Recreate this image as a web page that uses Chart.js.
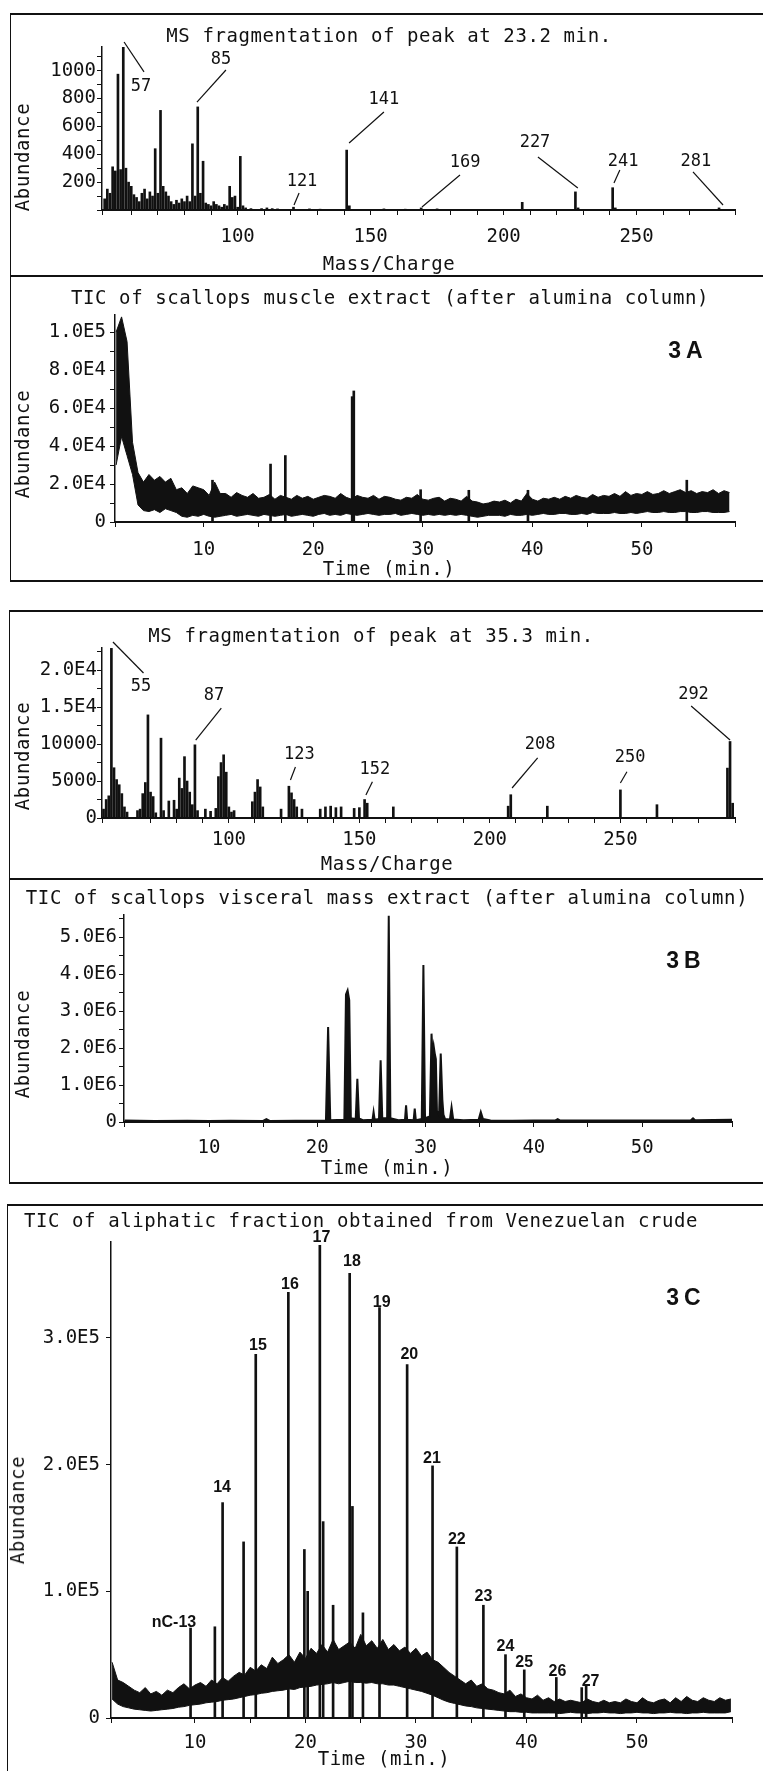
<!doctype html>
<html lang="en">
<head>
<meta charset="utf-8">
<title>Scallop extracts - GC/MS</title>
<script src="https://cdn.jsdelivr.net/npm/chart.js"></script>
<style>
  body { margin: 0; width: 763px; height: 1771px; overflow: hidden; background: #fff; position: relative;
         font-family: 'DejaVu Sans Mono', monospace; color: #111; }
  .frame { position: absolute; width: 800px; box-sizing: border-box; border-left: 1px solid #111; }
  canvas { position: absolute; left: 0; }
  .txt { position: absolute; white-space: nowrap; transform: translate(-50%, -50%); font-size: 19px; letter-spacing: .6px; }
  .ylab { transform: translate(-50%, -50%) rotate(-90deg); }
  .tag { font-family: 'Liberation Sans', Arial, sans-serif; font-weight: bold; font-size: 23px; letter-spacing: 5px; }
</style>
</head>
<body>
  <!-- panel frames -->
  <div class="frame" style="left:10px;top:13px;height:264px;border-top:2px solid #111;border-bottom:2px solid #111"></div>
  <div class="frame" style="left:10px;top:275px;height:307px;border-bottom:2px solid #111"></div>
  <div class="frame" style="left:9px;top:610px;height:270px;border-top:2px solid #111;border-bottom:2px solid #111"></div>
  <div class="frame" style="left:9px;top:878px;height:306px;border-bottom:2px solid #111"></div>
  <div class="frame" style="left:7px;top:1204px;height:600px;border-top:2px solid #111"></div>

  <canvas id="c1" width="763" height="260" style="top:14px"></canvas>
  <canvas id="c2" width="763" height="303" style="top:276px"></canvas>
  <canvas id="c3" width="763" height="265" style="top:612px"></canvas>
  <canvas id="c4" width="763" height="302" style="top:879px"></canvas>
  <canvas id="c5" width="763" height="565" style="top:1206px"></canvas>

  <div class="txt" style="left:389px;top:35px">MS fragmentation of peak at 23.2 min.</div>
  <div class="txt ylab" style="left:22px;top:157px">Abundance</div>
  <div class="txt" style="left:389px;top:263px">Mass/Charge</div>

  <div class="txt" style="left:390px;top:297px">TIC of scallops muscle extract (after alumina column)</div>
  <div class="txt tag" style="left:688px;top:350px">3A</div>
  <div class="txt ylab" style="left:22px;top:444px">Abundance</div>
  <div class="txt" style="left:389px;top:568px">Time (min.)</div>

  <div class="txt" style="left:371px;top:635px">MS fragmentation of peak at 35.3 min.</div>
  <div class="txt ylab" style="left:22px;top:756px">Abundance</div>
  <div class="txt" style="left:387px;top:863px">Mass/Charge</div>

  <div class="txt" style="left:387px;top:897px">TIC of scallops visceral mass extract (after alumina column)</div>
  <div class="txt tag" style="left:686px;top:960px">3B</div>
  <div class="txt ylab" style="left:22px;top:1044px">Abundance</div>
  <div class="txt" style="left:387px;top:1167px">Time (min.)</div>

  <div class="txt" style="left:361px;top:1220px">TIC of aliphatic fraction obtained from Venezuelan crude</div>
  <div class="txt tag" style="left:686px;top:1297px">3C</div>
  <div class="txt ylab" style="left:17px;top:1510px">Abundance</div>
  <div class="txt" style="left:384px;top:1758px">Time (min.)</div>

<script>
  //--------------------------------- data ---------------------------------
  // MS of the peak at 23.2 min (muscle)
  const ms232Mz = [50, 51, 52, 53, 54, 55, 56, 57, 58, 59, 60, 61, 62, 63, 64, 65, 66, 67, 68, 69,
    70, 71, 72, 73, 74, 75, 76, 77, 78, 79, 80, 81, 82, 83, 84, 85, 86, 87, 88, 89,
    90, 91, 92, 93, 94, 95, 96, 97, 98, 99, 100, 101, 102, 103, 105, 109, 111, 113, 115, 121,
    127, 131, 141, 142, 155, 163, 169, 175, 207, 227, 228, 241, 242, 255, 281]
  const ms232Abund = [80, 150, 120, 310, 280, 975, 290, 1170, 300, 200, 170, 110, 90, 60, 120, 150, 80, 130, 100, 440,
    120, 715, 170, 130, 100, 60, 40, 70, 50, 80, 60, 100, 60, 475, 100, 740, 120, 350, 50, 40,
    30, 60, 40, 30, 20, 40, 30, 170, 90, 100, 20, 385, 30, 15, 10, 10, 15, 10, 8, 20,
    8, 6, 430, 30, 8, 6, 15, 8, 55, 130, 15, 160, 15, 5, 15]
  const ms232YTicks = [0, 100, 200, 300, 400, 500, 600, 700, 800, 900, 1000, 1100]
  const ms232YLabels = [200, 400, 600, 800, 1000]
  const ms232NoteText = ['57', '85', '121', '141', '169', '227', '241', '281']
  const ms232NoteAt = [[63.7, 883], [93.7, 1077], [124.2, 201], [155, 790], [185.5, 337], [211.8, 481], [244.9, 345], [272.3, 345]]
  const ms232Leader = [[57.3, 1206, 64.8, 991], [95.6, 1005, 84.7, 775], [123.1, 122, 121.2, 36], [155, 703, 141.9, 481],
    [183.6, 251, 169.3, 22], [212.9, 380, 227.9, 158], [243.7, 287, 241.5, 194], [271.2, 273, 282.5, 36]]

  // TIC of muscle extract: noise band (x1000) every 0.5 min from 2 min, plus sharp peaks
  const muscleStart = 2, muscleStep = 0.5
  const muscleHiK = [100, 108, 95, 42, 26, 21, 25, 22, 24, 21,
    23, 17, 18, 15, 19, 18, 17, 14, 21, 15,
    15, 13, 15.5, 14, 13, 15, 12.5, 13, 14.5, 12,
    14, 13, 12, 14, 12.5, 13.5, 12, 13, 14, 13.5,
    12.5, 15, 13, 12, 14, 13, 12.5, 14, 12, 13.5,
    13, 12, 11.5, 13, 12.5, 14.5, 12, 11.5, 12.5, 13,
    11, 12.5, 12, 11, 13.5, 11, 10.5, 9.5, 10, 11,
    10.5, 11.5, 10, 12, 11, 15, 12, 11, 12.5, 12,
    13, 12, 13.5, 12.5, 14, 13, 12.5, 14.5, 13, 14,
    13.5, 15, 13.5, 16, 14, 15, 14.5, 16, 14.5, 15,
    16.5, 15, 16, 17, 15.5, 16.5, 15, 16, 15.5, 17,
    15, 16.5, 15.5]
  const muscleLoK = [30, 45, 35, 25, 9, 6, 5.5, 6.5, 5, 7,
    6, 5, 3, 2.5, 3.5, 3, 4, 3, 2.5, 3,
    3.5, 4, 3, 3.5, 4, 3.5, 3, 4, 3.5, 3,
    3.5, 4, 3, 3.5, 4, 3.5, 3, 4, 4.5, 3.5,
    4, 3.5, 4.5, 4, 3.5, 4, 4.5, 4, 3.5, 4,
    4, 4.5, 3.5, 4, 4.5, 4, 3.5, 4, 3.5, 4,
    3.5, 4, 3.5, 4, 3.5, 3, 2.5, 3, 3.5, 3.5,
    3.5, 3, 4, 3.5, 3.5, 4, 3.5, 4, 4.5, 4,
    4, 4.5, 4.5, 4, 4, 4.5, 4, 5, 4.5, 4.5,
    4.5, 5, 4.5, 4.5, 5, 4.5, 5, 5.5, 5, 5,
    5.5, 5, 5, 5.5, 5.5, 5, 5, 5.5, 5.5, 5,
    5, 5, 5.5]
  const musclePeakTime = [10.8, 16.1, 17.45, 23.55, 23.7, 29.8, 34.2, 39.6, 54.1]
  const musclePeakAbund = [22000, 30500, 35000, 66000, 69000, 17000, 16700, 16700, 22000]
  const muscleYTicks = [0, 10000, 20000, 30000, 40000, 50000, 60000, 70000, 80000, 90000, 100000]
  const muscleYLabels = [0, 20000, 40000, 60000, 80000, 100000]

  // MS of the peak at 35.3 min (visceral mass)
  const ms353Mz = [51, 52, 53, 54, 55, 56, 57, 58, 59, 60, 61, 65, 66, 67, 68, 69, 70, 71, 72, 74,
    75, 77, 79, 80, 81, 82, 83, 84, 85, 86, 87, 88, 91, 93, 95, 96, 97, 98, 99, 100,
    101, 102, 109, 110, 111, 112, 113, 120, 123, 124, 125, 126, 128, 135, 137, 139, 141, 143, 148, 150,
    152, 153, 163, 207, 208, 222, 250, 264, 291, 292, 293]
  const ms353Abund = [1000, 1200, 2500, 3000, 22950, 6800, 5200, 4500, 3300, 1500, 800, 1000, 1200, 3300, 4800, 13950, 3500, 2900, 700, 10800,
    1000, 2300, 2400, 1200, 5400, 4000, 8300, 5000, 3500, 1800, 9900, 1000, 1200, 900, 1300, 5600, 7500, 8550, 6200, 1500,
    800, 1000, 2200, 3500, 5200, 4200, 1500, 1200, 4300, 3400, 2500, 1500, 1200, 1200, 1500, 1600, 1400, 1500, 1300, 1400,
    2500, 2000, 1500, 1600, 3150, 1600, 3800, 1800, 6750, 10350, 2000]
  const ms353YTicks = [0, 2500, 5000, 7500, 10000, 12500, 15000, 17500, 20000, 22500]
  const ms353YLabels = [0, 5000, 10000, 15000, 20000]
  const ms353NoteText = ['55', '87', '123', '152', '208', '250', '292']
  const ms353NoteAt = [[66.3, 17720], [94.3, 16500], [127, 8520], [155.9, 6490], [219.2, 9880], [253.7, 8120], [278, 16640]]
  const ms353Leader = [[55.6, 23810, 67.3, 19620], [97.1, 14880, 87.3, 10550], [125.5, 6900, 123.6, 5140], [155, 4910, 152.5, 3110],
    [218.3, 8120, 208.5, 4060], [252.5, 6260, 250, 4740], [277.1, 15150, 292, 10550]]

  // TIC of visceral mass extract (abundance x1E6)
  const visceralTime = [2.2, 5, 8, 10, 12, 15, 15.3, 15.6, 18, 20.8,
    21.0, 21.2, 22.5, 22.65, 22.8, 22.95, 23.1, 23.55, 23.7, 23.85,
    24.2, 25.1, 25.2, 25.3, 25.7, 25.85, 26.0, 26.45, 26.6, 26.75,
    27.5, 28.1, 28.2, 28.3, 28.9, 29.0, 29.1, 29.65, 29.8, 29.95,
    30.4, 30.55, 30.65, 30.75, 30.85, 30.95, 31.05, 31.25, 31.4, 31.55,
    31.65, 31.8, 32.25, 32.4, 32.55, 33.5, 34.9, 35.1, 35.3, 36,
    38, 40, 42, 42.2, 42.4, 45, 48, 50, 54.5, 54.7,
    54.9, 58.3]
  const visceralAbundM = [0.04, 0.03, 0.035, 0.03, 0.035, 0.03, 0.08, 0.03, 0.035, 0.04,
    2.57, 0.05, 0.06, 3.45, 3.56, 3.3, 0.1, 0.08, 1.17, 0.1,
    0.05, 0.06, 0.27, 0.06, 0.08, 1.67, 0.1, 0.1, 5.58, 0.1,
    0.05, 0.06, 0.45, 0.06, 0.05, 0.36, 0.05, 0.08, 4.25, 0.1,
    0.15, 2.39, 1.8, 2.05, 1.85, 1.7, 0.3, 0.2, 1.85, 0.6,
    0.2, 0.08, 0.07, 0.4, 0.07, 0.05, 0.06, 0.27, 0.08, 0.04,
    0.035, 0.04, 0.045, 0.08, 0.045, 0.04, 0.04, 0.04, 0.05, 0.1,
    0.05, 0.06]
  const visceralYTicks = [0, 5e5, 1e6, 1.5e6, 2e6, 2.5e6, 3e6, 3.5e6, 4e6, 4.5e6, 5e6, 5.5e6]
  const visceralYLabels = [0, 1e6, 2e6, 3e6, 4e6, 5e6]

  // TIC of the Venezuelan crude aliphatic fraction: hump band (x1000) every 0.5 min from 2.5 min
  const crudeStart = 2.5, crudeStep = 0.5
  const crudeHiK = [44, 30, 28, 25, 22, 20, 24, 19, 21, 18,
    22, 20, 24, 27, 23, 26, 28, 25, 30, 27,
    32, 29, 33, 36, 34, 40, 37, 42, 39, 48,
    43, 46, 50, 44, 52, 47, 55, 51, 58, 52,
    62, 54, 57, 60, 55, 66, 57, 61, 55, 62,
    54, 58, 53, 56, 51, 55, 49, 52, 46, 44,
    40, 36, 33, 30, 27, 30, 25, 27, 23, 22,
    20, 19, 22, 17, 19, 16, 15, 18, 14, 16,
    13, 15, 13, 14, 13, 12, 15, 13, 12, 14,
    12, 13, 12, 15, 13, 12, 16, 13, 12, 14,
    15, 12, 16, 13, 17, 14, 13, 16, 14, 13,
    16, 14, 15]
  const crudeLoK = [15, 11, 9, 8, 7, 6.5, 6, 5.5, 6, 6.5,
    7, 7.5, 8.5, 9, 10, 10.5, 11, 12, 12.5, 13,
    14, 14.5, 15, 16, 17, 18, 18.5, 19.5, 20, 21,
    21.5, 22, 23, 22.5, 24, 24.5, 25, 26, 26.5, 27,
    28, 27, 28, 29, 28, 28, 27.5, 28, 27, 27,
    26, 26, 25, 24, 23, 22, 21, 19.5, 18, 16,
    14, 12.5, 11.5, 10.5, 9.5, 9, 8, 7.5, 7, 6.5,
    6, 5.5, 5, 5, 4.5, 4.5, 4, 4, 4, 4,
    4, 3.5, 4, 4.5, 4, 4, 3.5, 4, 4, 4.5,
    4, 4, 3.5, 4, 4, 4.5, 4, 4, 3.5, 4,
    4, 4.5, 4, 4, 3.5, 4, 4, 4.5, 4, 4,
    4, 4, 5]
  const crudePeakTime = [9.6, 11.8, 12.5, 14.4, 15.5, 18.45, 19.9, 20.2, 21.3, 21.6, 22.5, 24.0,
    24.25, 25.2, 26.7, 29.2, 31.5, 33.7, 36.1, 38.1, 39.8, 42.7, 45.0, 45.4]
  const crudePeakAbund = [71000, 72000, 170000, 139000, 287000, 336000, 133000, 100000, 373000, 155000, 89000, 351000,
    167000, 83000, 324000, 279000, 199000, 135000, 89000, 50000, 38000, 32000, 24000, 26000]
  const crudeYTicks = [0, 100000, 200000, 300000]
  const crudeYLabels = [0, 100000, 200000, 300000]
  const crudeNoteText = ['nC-13', '14', '15', '16', '17', '18', '19', '20', '21', '22', '23', '24', '25', '26', '27']
  const crudeNoteAt = [[8.1, 75000], [12.45, 181500], [15.7, 294000], [18.6, 342000], [21.45, 379000], [24.2, 360000],
    [26.9, 328000], [29.4, 286500], [31.45, 205000], [33.7, 140500], [36.1, 95500], [38.1, 56000],
    [39.8, 43400], [42.8, 36300], [45.8, 28400]]

  //--------------------------------- helpers ---------------------------------
  const mono = 'DejaVu Sans Mono'
  const ink = '#111'

  const pairs = (xs, ys, k = 1) => xs.map((x, i) => ({ x: x, y: ys[i] * k }))
  const stepped = (t0, dt, ys, k = 1) => ys.map((y, i) => ({ x: t0 + i * dt, y: y * k }))
  const expLabel = v => v === 0 ? '0' : v.toExponential(1).replace('e+', 'E')

  const notesPlugin = (n) => ({
    id: 'peakNotes',
    afterDatasetsDraw(chart) {
      const { ctx, scales: { x, y } } = chart
      ctx.save()
      ctx.fillStyle = ink
      ctx.strokeStyle = ink
      ctx.lineWidth = 1.2
      ctx.font = n.font
      ctx.textAlign = 'center'
      ctx.textBaseline = 'middle'
      n.text.forEach((t, i) => {
        ctx.fillText(t, x.getPixelForValue(n.at[i][0]), y.getPixelForValue(n.at[i][1]))
        const l = n.leaders && n.leaders[i]
        if (l) {
          ctx.beginPath()
          ctx.moveTo(x.getPixelForValue(l[0]), y.getPixelForValue(l[1]))
          ctx.lineTo(x.getPixelForValue(l[2]), y.getPixelForValue(l[3]))
          ctx.stroke()
        }
      })
      ctx.restore()
    }
  })

  // p.top/p.height: canvas box on the page, p.area: wanted plot area on the page
  const makePanel = (id, p, datasets, notes) => {
    const tickGrid = () => ({ drawOnChartArea: false, drawTicks: true, tickLength: 5, color: ink, offset: false })
    new Chart(document.getElementById(id), {
      type: 'line',
      data: { datasets: datasets },
      plugins: notes ? [notesPlugin(notes)] : [],
      options: {
        responsive: false,
        animation: false,
        devicePixelRatio: 1,
        layout: { padding: { top: p.area.t - p.top, right: 763 - p.area.r, left: 0, bottom: 0 } },
        plugins: { legend: { display: false }, tooltip: { enabled: false } },
        scales: {
          x: {
            type: 'linear', min: p.xMin, max: p.xMax, offset: false,
            grid: tickGrid(),
            border: { color: ink, width: 2 },
            ticks: { stepSize: p.xStep, autoSkip: false, maxRotation: 0, padding: p.xPad, color: ink,
              font: { family: mono, size: 19 }, callback: p.xLabel },
            afterFit: s => { s.height = p.top + p.height - p.area.b }
          },
          y: {
            type: 'linear', min: 0, max: p.yMax,
            grid: tickGrid(),
            border: { color: ink, width: 1.5 },
            ticks: { autoSkip: false, padding: p.yPad, color: ink, font: { family: mono, size: 19 },
              callback: v => p.yLabels.includes(v) ? p.yFormat(v) : '' },
            afterBuildTicks: s => { s.ticks = p.yTicks.map(v => ({ value: v })) },
            afterFit: s => { s.width = p.area.l }
          }
        }
      }
    })
  }

  const massTick = v => (v % 50 === 0 && v >= 100) ? v : ''
  const timeTick = v => (v % 10 === 0 && v > 0) ? v : ''
  const sticks = (data, w) => ({ type: 'bar', data: data, backgroundColor: ink, barThickness: w, grouped: false })
  const trace = (data, w, fill) => ({ type: 'line', data: data, borderColor: ink, borderWidth: w, pointRadius: 0,
    tension: 0, fill: fill || false, backgroundColor: ink })

  //--------------------------------- panels ---------------------------------
  makePanel('c1', {
    top: 14, height: 260, area: { l: 102, r: 735, t: 47, b: 210 },
    xMin: 49, xMax: 287, xStep: 10, xPad: 11, xLabel: massTick,
    yMax: 1170, yTicks: ms232YTicks, yLabels: ms232YLabels, yFormat: String, yPad: 1
  }, [sticks(pairs(ms232Mz, ms232Abund), 2)],
  { text: ms232NoteText, at: ms232NoteAt, leaders: ms232Leader, font: '17px "DejaVu Sans Mono"' })

  makePanel('c2', {
    top: 276, height: 303, area: { l: 115, r: 735, t: 315, b: 522 },
    xMin: 1.9, xMax: 58.5, xStep: 5, xPad: 12, xLabel: timeTick,
    yMax: 109000, yTicks: muscleYTicks, yLabels: muscleYLabels, yFormat: expLabel, yPad: 4
  }, [
    trace(stepped(muscleStart, muscleStep, muscleLoK, 1000), 1),
    trace(stepped(muscleStart, muscleStep, muscleHiK, 1000), 1, '-1'),
    sticks(pairs(musclePeakTime, musclePeakAbund), 2)
  ])

  makePanel('c3', {
    top: 612, height: 265, area: { l: 102, r: 735, t: 648, b: 818 },
    xMin: 51.4, xMax: 293.9, xStep: 10, xPad: 6, xLabel: massTick,
    yMax: 23000, yTicks: ms353YTicks, yLabels: ms353YLabels, yPad: 0,
    yFormat: v => v >= 15000 ? expLabel(v) : String(v)
  }, [sticks(pairs(ms353Mz, ms353Abund), 2)],
  { text: ms353NoteText, at: ms353NoteAt, leaders: ms353Leader, font: '17px "DejaVu Sans Mono"' })

  makePanel('c4', {
    top: 879, height: 302, area: { l: 124, r: 732, t: 915, b: 1122 },
    xMin: 2.15, xMax: 58.3, xStep: 5, xPad: 10, xLabel: timeTick,
    yMax: 5600000, yTicks: visceralYTicks, yLabels: visceralYLabels, yFormat: expLabel, yPad: 2
  }, [trace(pairs(visceralTime, visceralAbundM, 1e6), 2, 'origin')])

  makePanel('c5', {
    top: 1206, height: 565, area: { l: 111, r: 732, t: 1242, b: 1718 },
    xMin: 2.4, xMax: 58.6, xStep: 5, xPad: 9, xLabel: timeTick,
    yMax: 375700, yTicks: crudeYTicks, yLabels: crudeYLabels, yFormat: expLabel, yPad: 6
  }, [
    trace(stepped(crudeStart, crudeStep, crudeLoK, 1000), 1),
    trace(stepped(crudeStart, crudeStep, crudeHiK, 1000), 1, '-1'),
    sticks(pairs(crudePeakTime, crudePeakAbund), 2)
  ],
  { text: crudeNoteText, at: crudeNoteAt, font: 'bold 16px "Liberation Sans"' })
</script>
</body>
</html>
